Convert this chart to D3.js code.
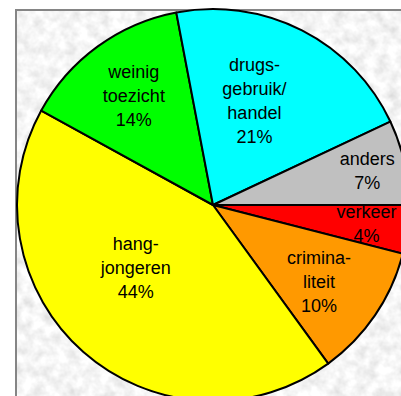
<!DOCTYPE html>
<html>
<head>
<meta charset="utf-8">
<script src="https://cdn.jsdelivr.net/npm/d3@7"></script>
<style>
  html, body { margin: 0; padding: 0; background: #ffffff; overflow: hidden; }
  svg { display: block; }
</style>
</head>
<body>
<svg id="chart" width="401" height="396"></svg>
<script>
// ---- data ----
const categories = ["verkeer", "criminaliteit", "hangjongeren", "weinig toezicht", "drugsgebruik/handel", "anders"];
const sliceValues = [4, 11, 43, 14, 21, 7];            // angular share estimated from the slices
const percentLabels = ["4%", "10%", "44%", "14%", "21%", "7%"]; // as printed on the chart
const labelLines = [
  ["verkeer"],
  ["crimina-", "liteit"],
  ["hang-", "jongeren"],
  ["weinig", "toezicht"],
  ["drugs-", "gebruik/", "handel"],
  ["anders"]
];
const sliceColors = ["#ff0000", "#ff9900", "#ffff00", "#00ff00", "#00ffff", "#c0c0c0"];
// label placement: fraction across the slice's angle, fraction of radius
const labelAngleFrac = [0.5, 0.545, 0.56, 0.5, 0.43, 0.5];
const labelRadiusFrac = [0.79, 0.668, 0.51, 0.687, 0.571, 0.806];

// ---- layout ----
const W = 401, H = 396;
const cx = 213, cy = 205, R = 196;
const svg = d3.select("#chart");

// textured background
const defs = svg.append("defs");
const filt = defs.append("filter").attr("id", "granite")
  .attr("x", 0).attr("y", 0).attr("width", "100%").attr("height", "100%");
filt.append("feTurbulence").attr("type", "fractalNoise")
  .attr("baseFrequency", 0.09).attr("numOctaves", 3).attr("seed", 7).attr("result", "n");
filt.append("feColorMatrix").attr("type", "matrix")
  .attr("values", "0.45 0 0 0 0.69  0.45 0 0 0 0.69  0.45 0 0 0 0.69  0 0 0 0 1");

svg.append("rect").attr("x", 16).attr("y", 10).attr("width", W).attr("height", H)
  .attr("filter", "url(#granite)");
svg.append("rect").attr("x", 16).attr("y", 10).attr("width", W + 20).attr("height", H + 20)
  .attr("fill", "none").attr("stroke", "#858585").attr("stroke-width", 2);

// pie
const pie = d3.pie().sort(null).value(d => d)
  .startAngle(Math.PI / 2).endAngle(Math.PI / 2 + 2 * Math.PI);
const arcs = pie(sliceValues);
const arc = d3.arc().innerRadius(0).outerRadius(R);

const g = svg.append("g").attr("transform", `translate(${cx},${cy})`);
g.selectAll("path.slice").data(arcs).join("path")
  .attr("class", "slice")
  .attr("d", arc)
  .attr("fill", (d, i) => sliceColors[i])
  .attr("stroke", "#000")
  .attr("stroke-width", 2)
  .attr("stroke-linejoin", "round");

// labels
const lineH = 24;
arcs.forEach((d, i) => {
  const a = d.startAngle + (d.endAngle - d.startAngle) * labelAngleFrac[i];
  const r = R * labelRadiusFrac[i];
  const lx = r * Math.sin(a), ly = -r * Math.cos(a);
  const lines = labelLines[i].concat([percentLabels[i]]);
  const t = g.append("text")
    .attr("text-anchor", "middle")
    .attr("font-family", "'Liberation Sans', Arial, sans-serif")
    .attr("font-size", 18)
    .attr("fill", "#000");
  const y0 = ly - (lines.length - 1) * lineH / 2 + 6;
  lines.forEach((s, k) => {
    t.append("tspan").attr("x", lx).attr("y", y0 + k * lineH).text(s);
  });
});
</script>
</body>
</html>
